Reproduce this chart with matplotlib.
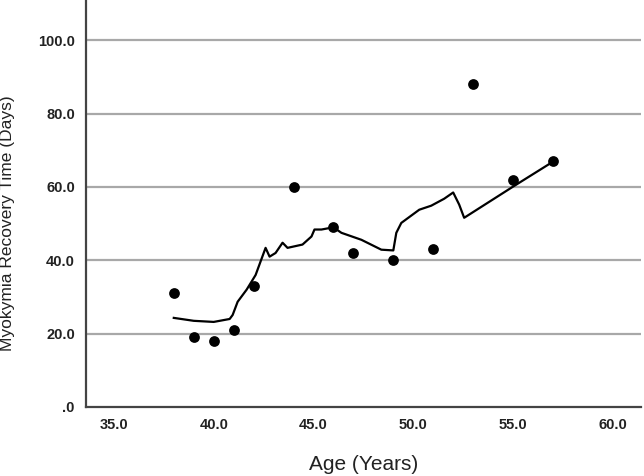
import numpy as np
import matplotlib
matplotlib.use('Agg')
import matplotlib.pyplot as plt
from matplotlib.ticker import FuncFormatter

# observed cases
age = [38, 39, 40, 41, 42, 44, 46, 47, 49, 51, 53, 55, 57]
recovery_days = [31, 19, 18, 21, 33, 60, 49, 42, 40, 43, 88, 62, 67]

# loess fit line
fit_age = [38.0, 39.0, 40.0, 40.8, 40.95, 41.2, 41.65, 42.1, 42.6, 42.8, 43.1, 43.45,
           43.7, 44.45, 44.9, 45.05, 45.4, 46.0, 46.4, 47.4, 48.4, 49.0, 49.15, 49.4,
           49.75, 50.3, 50.9, 51.55, 52.0, 52.3, 52.55, 55.0, 57.0]
fit_days = [24.3, 23.5, 23.2, 24.0, 25.1, 28.7, 32.0, 36.0, 43.4, 41.0, 42.0, 44.8,
            43.4, 44.3, 46.5, 48.4, 48.4, 49.0, 47.5, 45.6, 42.9, 42.7, 47.5, 50.2,
            51.6, 53.8, 54.9, 56.8, 58.5, 55.2, 51.6, 60.1, 66.9]

x_ticks = [35, 40, 45, 50, 55, 60]
y_ticks = [0, 20, 40, 60, 80, 100]


def spss_format(v, pos):
    s = '%.1f' % v
    if s.startswith('0.'):
        s = s[1:]
    return s


plt.rcParams['font.family'] = ['Liberation Sans', 'DejaVu Sans']

fig = plt.figure(figsize=(6.44, 4.76), dpi=100)
ax = fig.add_axes([0.1335, 0.145, 0.8615, 0.855])

for y in y_ticks[1:]:
    ax.axhline(y, color='#a8a8a8', linewidth=1.6, zorder=1)

ax.plot(fit_age, fit_days, color='black', linewidth=1.6, zorder=2)
ax.scatter(age, recovery_days, s=60, color='black', zorder=3, linewidths=0)

ax.set_xlim(33.6, 61.4)
ax.set_ylim(0, 111)
ax.set_xticks(x_ticks)
ax.set_yticks(y_ticks)
ax.xaxis.set_major_formatter(FuncFormatter(spss_format))
ax.yaxis.set_major_formatter(FuncFormatter(spss_format))
ax.tick_params(length=0, labelsize=10.5, colors='#222222', pad=8)
for lab in ax.get_xticklabels() + ax.get_yticklabels():
    lab.set_fontweight('bold')

for side in ['top', 'right']:
    ax.spines[side].set_visible(False)
for side in ['left', 'bottom']:
    ax.spines[side].set_color('#444444')
    ax.spines[side].set_linewidth(1.6)

ax.set_xlabel('Age (Years)', fontsize=15, color='#222222')
ax.set_ylabel('Myokymia Recovery Time (Days)', fontsize=12.5, color='#222222')
ax.xaxis.set_label_coords(0.5, -0.118)
ax.yaxis.set_label_coords(-0.128, 0.452)

fig.savefig('out.png', dpi=100)
